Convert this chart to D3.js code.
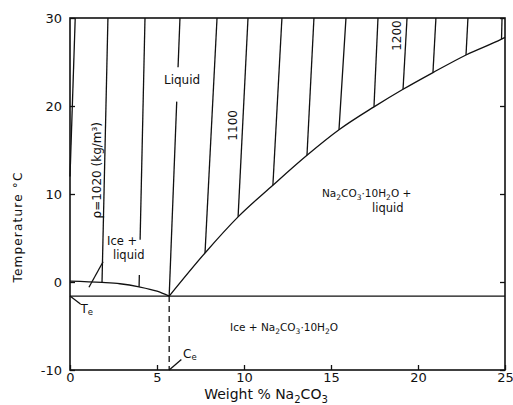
<!DOCTYPE html>
<html>
<head>
<meta charset="utf-8">
<script src="https://cdn.jsdelivr.net/npm/d3@7.9.0/dist/d3.min.js"></script>
<style>
  body { margin: 0; background: #fff; }
  svg { display: block; font-family: "DejaVu Sans", sans-serif; }
  .line { fill: none; stroke: #111; stroke-width: 1.3; }
  .lbl { font-size: 12px; fill: #111; }
</style>
</head>
<body>
<svg id="chart" width="513" height="405"></svg>
<script>
// axis ticks
const xTicks = [0, 5, 10, 15, 20, 25];
const yTicks = [-10, 0, 10, 20, 30];

// iso-density lines (kg/m3): wt% at 30 C, and where each line stops
const densities    = [1000, 1020, 1040, 1060, 1080, 1100, 1120, 1140, 1160, 1180, 1200, 1220, 1240, 1260];
const densityTopWt = [0.3, 2.18, 4.31, 6.32, 8.45, 10.23, 12.18, 14.02, 15.86, 17.7, 19.37, 21.03, 22.87, 24.83];
const densityEndWt = [0, 1.84, 3.97, 5.7, 7.76, 9.66, 11.66, 13.62, 15.46, 17.47, 19.14, 20.86, 22.76, 24.8];
const densityEndT  = [12, -0.05, -0.55, -1.6, 3.3, 7.4, 11.0, 14.4, 17.3, 19.9, 21.9, 23.8, 25.8, 27.6];

// breaks left in some lines for the region labels
const gapDensity = [1040, 1060];
const gapFromT   = [4.8, 24.4];
const gapToT     = [0.8, 20.5];

// ice liquidus
const iceWt = [0, 1.84, 2.87, 3.97, 5.0, 5.7];
const iceT  = [0.1, -0.05, -0.2, -0.55, -1.05, -1.6];

// Na2CO3.10H2O solubility curve
const hydrateWt = [5.7, 7.76, 9.66, 11.66, 13.62, 15.46, 17.47, 19.14, 20.86, 22.76, 24.8, 25];
const hydrateT  = [-1.6, 3.3, 7.4, 11.0, 14.4, 17.3, 19.9, 21.9, 23.8, 25.8, 27.6, 27.8];

// eutectic
const eutecticWt = 5.7;
const eutecticT = -1.6;

const svg = d3.select("#chart");
const x = d3.scaleLinear().domain([0, 25]).range([70, 505]);
const y = d3.scaleLinear().domain([-10, 30]).range([370, 18]);

const line = d3.line().x(d => x(d[0])).y(d => y(d[1]));

// frame
svg.append("rect")
  .attr("x", x(0)).attr("y", y(30))
  .attr("width", x(25) - x(0)).attr("height", y(-10) - y(30))
  .attr("fill", "none").attr("stroke", "#111").attr("stroke-width", 1.6);

// axes, ticks point inwards
const styleAxis = g => {
  g.select(".domain").remove();
  g.selectAll("line").attr("stroke", "#111").attr("stroke-width", 1.3);
  g.selectAll("text").attr("fill", "#111").attr("font-size", 13)
    .attr("font-family", "DejaVu Sans, sans-serif");
  g.attr("font-family", null).attr("font-size", null);
};

svg.append("g")
  .attr("transform", `translate(0,${y(-10)})`)
  .call(d3.axisBottom(x).tickValues(xTicks).tickFormat(d => String(d))
    .tickSizeInner(-5).tickSizeOuter(0).tickPadding(3))
  .call(styleAxis);

svg.append("g")
  .attr("transform", `translate(${x(0)},0)`)
  .call(d3.axisLeft(y).tickValues(yTicks).tickFormat(d => String(d))
    .tickSizeInner(-5).tickSizeOuter(0).tickPadding(8))
  .call(styleAxis);

svg.append("g")
  .attr("transform", `translate(${x(25)},0)`)
  .call(d3.axisRight(y).tickValues(yTicks).tickSizeInner(-5).tickSizeOuter(0).tickFormat(""))
  .call(styleAxis);

// iso-density lines
densities.forEach((rho, i) => {
  const top = [densityTopWt[i], 30];
  const end = [densityEndWt[i], densityEndT[i]];
  const wtAt = t => densityTopWt[i] + (densityEndWt[i] - densityTopWt[i]) * (30 - t) / (30 - densityEndT[i]);
  const gi = gapDensity.indexOf(rho);
  const segs = gi < 0 ? [[top, end]]
    : [[top, [wtAt(gapFromT[gi]), gapFromT[gi]]], [[wtAt(gapToT[gi]), gapToT[gi]], end]];
  segs.forEach(s => svg.append("path").attr("class", "line").attr("stroke-width", 1.2).attr("d", line(s)));
});

// phase boundaries
svg.append("path").attr("class", "line").attr("stroke-width", 1.5)
  .attr("d", line.curve(d3.curveMonotoneX)(iceWt.map((w, i) => [w, iceT[i]])));
svg.append("path").attr("class", "line").attr("stroke-width", 1.5)
  .attr("d", line.curve(d3.curveMonotoneX)(hydrateWt.map((w, i) => [w, hydrateT[i]])));
line.curve(d3.curveLinear);

svg.append("path").attr("class", "line").attr("stroke-width", 1.5)
  .attr("d", line([[0, eutecticT], [25, eutecticT]]));
svg.append("path").attr("class", "line").attr("stroke-dasharray", "6,4")
  .attr("d", line([[eutecticWt, eutecticT], [eutecticWt, -10]]));

// leader lines
svg.append("path").attr("class", "line").attr("stroke-width", 1.1)
  .attr("d", line([[1.9, 2.3], [1.09, -0.6]]));
svg.append("path").attr("class", "line").attr("stroke-width", 1.1)
  .attr("d", line([[0, eutecticT], [0.6, -2.5]]));
svg.append("path").attr("class", "line").attr("stroke-width", 1.1)
  .attr("d", line([[eutecticWt, -10], [6.4, -8.8]]));

// text with chemical subscripts
function chem(sel, str, size) {
  const parts = str.split(/(?<=[A-Za-z])(\d+)/);
  parts.forEach((p, i) => {
    if (!p) return;
    const sub = i % 2 === 1;
    sel.append("tspan")
      .attr("font-size", sub ? size * 0.72 : size)
      .attr("dy", sub ? size * 0.3 : (i > 0 && parts[i - 1] ? -size * 0.3 : 0))
      .text(p);
  });
  return sel;
}

const label = (wt, t, str, size = 11.5, anchor = "start") =>
  chem(svg.append("text").attr("class", "lbl").attr("x", x(wt)).attr("y", y(t))
    .attr("text-anchor", anchor).attr("font-size", size), str, size);

label(6.44, 22.5, "Liquid", 12, "middle");
label(2.13, 4.2, "Ice +");
label(2.47, 2.6, "liquid");
label(14.48, 9.7, "Na2CO3·10H2O +", 10.5);
label(17.36, 7.9, "liquid");
label(9.2, -5.57, "Ice + Na2CO3·10H2O", 10.5);

label(0.6, -3.5, "T", 12).append("tspan").attr("font-size", 8.5).attr("dy", 2.5).text("e");
label(6.5, -8.6, "C", 12).append("tspan").attr("font-size", 8.5).attr("dy", 2.5).text("e");

// density values along lines
const rotLabel = (wt, t, str, size) =>
  svg.append("text").attr("class", "lbl").attr("font-size", size)
    .attr("text-anchor", "middle").attr("dy", "0.35em")
    .attr("transform", `translate(${x(wt)},${y(t)}) rotate(-90)`)
    .text(str);

rotLabel(1.55, 12.7, `ρ=${densities[1]} (kg/m³)`, 9.5);
rotLabel(9.37, 17.8, densities[5], 10);
rotLabel(18.8, 28.0, densities[10], 10);

// axis titles
svg.append("text").attr("class", "lbl").attr("font-size", 15.5)
  .attr("text-anchor", "middle").attr("dy", "0.35em").attr("letter-spacing", 1.2)
  .attr("transform", "translate(18,227) rotate(-90)")
  .text("Temperature °C");

chem(svg.append("text").attr("class", "lbl").attr("font-size", 14)
  .attr("text-anchor", "middle").attr("x", 266).attr("y", 399), "Weight % Na2CO3", 14);
</script>
</body>
</html>
